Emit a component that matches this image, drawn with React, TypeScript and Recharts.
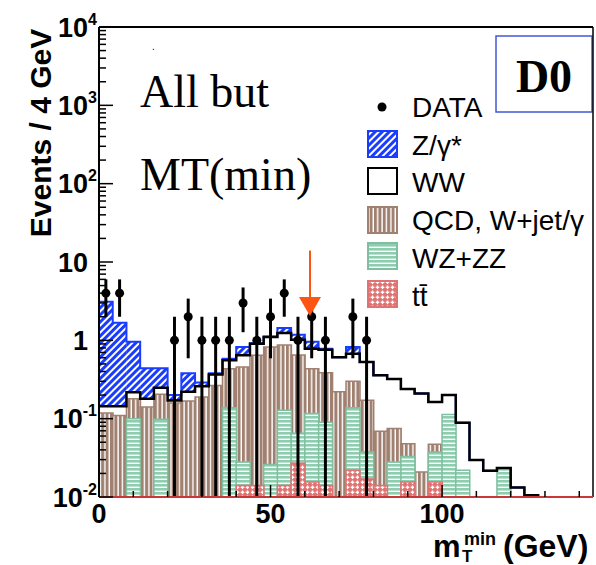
import React from 'react';
import {
  ComposedChart,
  Bar,
  Line,
  Scatter,
  XAxis,
  YAxis,
  ErrorBar,
  ReferenceLine,
  ReferenceDot,
} from 'recharts';

// ---------- data ----------
const BIN_WIDTH = 4; // GeV
const X_MIN = 0;
const X_MAX = 144;
const Y_MIN = 0.01;
const Y_MAX = 10000;

// bin centres (GeV) of the 4 GeV histogram bins
const binCenters = [
  2, 6, 10, 14, 18, 22, 26, 30, 34, 38, 42, 46, 50, 54, 58, 62, 66, 70,
  74, 78, 82, 86, 90, 94, 98, 102, 106, 110, 114, 118, 122, 126, 130, 134, 138, 142,
];

// stacked-histogram top of Z/gamma* (total)
const zGammaTop = [
  3.11, 1.68, 0.96, 0.44, 0.44, 0.2, 0.38, 0.29, 0.38, 0.58, 0.82, 0.92, 1.12, 1.44,
  1.18, 0.96, 0.78, 0.61, 0.82, 0.53, 0.357, 0.32, 0.24, 0.21, 0.163, 0.2, 0.089,
  0.0296, 0.0217, 0.0234, 0.0132, 0.0105,
];
// WW (white, black outline)
const wwTop = [
  0.144, 0.144, 0.217, 0.18, 0.249, 0.17, 0.22, 0.26, 0.365, 0.555, 0.643, 0.906, 1.1,
  1.24, 1.02, 0.78, 0.76, 0.61, 0.675, 0.53, 0.357, 0.32, 0.24, 0.21, 0.163, 0.2, 0.089,
  0.0296, 0.0217, 0.0234, 0.0132, 0.0105,
];
// QCD, W+jet/gamma
const qcdTop = [
  0.118, 0.11, 0.18, 0.141, 0.205, 0.158, 0.168, 0.189, 0.266, 0.435, 0.457, 0.643,
  0.82, 0.87, 0.65, 0.435, 0.385, 0.22, 0.3, 0.172, 0.069, 0.075, 0.048, 0.0209, 0.047,
];
// WZ+ZZ
const wzzzTop = [
  null, null, 0.1, null, 0.098, null, null, null, null, 0.138, 0.028, null, 0.026, 0.128,
  0.065, 0.116, 0.09, null, 0.138, 0.0375, null, 0.028, 0.033, null, 0.0375, 0.113,
  0.022, null, null, 0.0237,
];
// t tbar
const ttbarTop = [
  null, null, null, null, null, null, null, null, null, null, 0.014, 0.014, null, 0.014,
  0.027, 0.0155, 0.014, null, 0.022, 0.017, 0.014, null, 0.0155, null, 0.0155,
];

// DATA points
const dataX = [2, 6, 22, 26, 30, 34, 38, 42, 46, 50, 54, 58, 62, 66, 74, 78];
const dataY = [4, 4, 1, 2, 1, 1, 1, 3, 1, 2, 4, 1, 2, 1, 2, 1];
const dataErr = [2, 2, 1, 1.41, 1, 1, 1, 1.73, 1, 1.41, 2, 1, 1.41, 1, 1.41, 1];

// cut arrow
const cutX = 61.5;
const arrowTopY = 14;
const arrowHeadY = 3.57;

// axis ticks
const yDecades = [0.01, 0.1, 1, 10, 100, 1000, 10000];
const yMinorMultipliers = [2, 3, 4, 5, 6, 7, 8, 9];
const xTicks = [0, 10, 20, 30, 40, 50, 60, 70, 80, 90, 100, 110, 120, 130, 140];
const xLabelled = [0, 50, 100];

// legend
const legendLabels = ['DATA', 'Z/\u03b3*', 'WW', 'QCD, W+jet/\u03b3', 'WZ+ZZ', 'tt\u0304'];

// ---------- derived tables ----------
const pick = (arr: (number | null)[], i: number) =>
  i < arr.length && arr[i] != null ? arr[i] : null;

const histTable = binCenters.map((c, i) => ({
  c,
  z: pick(zGammaTop, i),
  ww: pick(wwTop, i),
  qcd: pick(qcdTop, i),
  wz: pick(wzzzTop, i),
  tt: pick(ttbarTop, i),
}));

const stepOutline = (vals: number[]) => {
  const pts = vals.map((v, i) => ({ x: binCenters[i] - BIN_WIDTH / 2, y: v }));
  pts.push({ x: binCenters[vals.length - 1] + BIN_WIDTH / 2, y: Y_MIN });
  return pts;
};
const zOutline = stepOutline(zGammaTop);
const wwOutline = stepOutline(wwTop);

const dataPoints = dataX.map((x, i) => ({
  x,
  y: dataY[i],
  err: [Math.min(dataErr[i], dataY[i] - Y_MIN), dataErr[i]],
}));

const yTicks: number[] = [];
yDecades.forEach((d, k) => {
  yTicks.push(d);
  if (k < yDecades.length - 1) yMinorMultipliers.forEach((m) => yTicks.push(+(d * m).toPrecision(3)));
});

// ---------- styling ----------
const SANS = "'Liberation Sans', Arial, Helvetica, sans-serif";
const SERIF = "'Liberation Serif', 'Times New Roman', Times, serif";
const C_Z = '#1a3cff';
const C_QCD = '#a08070';
const C_WZ = '#8fcdb0';
const C_WZ_EDGE = '#7fbf9f';
const C_TT = '#e07272';
const C_ARROW = '#ff5514';

const renderYTick = (props: any) => {
  const { x, y, payload } = props;
  const v = payload.value as number;
  const lg = Math.log10(v);
  const exp = Math.round(lg);
  const major = Math.abs(lg - exp) < 1e-6;
  const axisX = x;
  const len = major ? 14 : 7;
  let label: React.ReactNode = null;
  if (major) {
    if (exp === 0 || exp === 1) {
      label = (
        <text x={axisX - 11} y={y + 9.5} textAnchor="end" fontFamily={SANS} fontWeight="bold" fontSize={27} fill="#000">
          {exp === 0 ? '1' : '10'}
        </text>
      );
    } else {
      label = (
        <text x={axisX - 2} y={y + 9.5} textAnchor="end" fontFamily={SANS} fontWeight="bold" fontSize={27} fill="#000">
          <tspan>10</tspan>
          <tspan dy={-12} fontSize={16}>{String(exp)}</tspan>
        </text>
      );
    }
  }
  return (
    <g>
      <line x1={axisX} x2={axisX + len} y1={y} y2={y} stroke="#000" strokeWidth={1.5} />
      {label}
    </g>
  );
};

const renderXTick = (props: any) => {
  const { x, y, payload } = props;
  const v = payload.value as number;
  const major = v % 50 === 0;
  const len = major ? 12 : 6;
  return (
    <g>
      <line x1={x} x2={x} y1={y} y2={y - len} stroke="#000" strokeWidth={1.5} />
      {xLabelled.includes(v) && (
        <text x={x} y={y + 26} textAnchor="middle" fontFamily={SANS} fontWeight="bold" fontSize={27} fill="#000">
          {String(v)}
        </text>
      )}
    </g>
  );
};

const renderDot = (p: any) => <circle cx={p.cx} cy={p.cy} r={4.5} fill="#000" />;

const renderArrowHead = (p: any) => (
  <polygon
    points={`${p.cx - 11},${p.cy} ${p.cx + 11},${p.cy} ${p.cx},${p.cy + 19}`}
    fill={C_ARROW}
  />
);

const legendTop = [131, 168, 207, 243, 281];
const legendFills = ['url(#zHatch)', '#ffffff', 'url(#qcdHatch)', 'url(#wzHatch)', 'url(#ttHatch)'];
const legendStrokes = [C_Z, '#000', C_QCD, C_WZ_EDGE, C_TT];
const legendBaselines = [117, 155, 192, 230, 268, 306];

export default function App() {
  return (
    <div style={{ position: 'absolute', left: 0, top: 0, background: '#fff' }}>
      <ComposedChart
        width={596}
        height={565}
        data={histTable}
        margin={{ top: 27, right: 3, bottom: 0, left: 0 }}
        barCategoryGap={0}
        barGap={0}
      >
        <defs>
          <pattern id="zHatch" width="5" height="5" patternUnits="userSpaceOnUse" patternTransform="rotate(45)">
            <rect width="5" height="5" fill={C_Z} />
            <rect x="0" y="0" width="2" height="5" fill="#ffffff" />
          </pattern>
          <pattern id="qcdHatch" width="4.4" height="10" patternUnits="userSpaceOnUse">
            <rect width="4.4" height="10" fill={C_QCD} />
            <rect x="3" y="0" width="1.4" height="10" fill="#ffffff" />
          </pattern>
          <pattern id="wzHatch" width="10" height="4" patternUnits="userSpaceOnUse">
            <rect width="10" height="4" fill={C_WZ} />
            <rect x="0" y="2.6" width="10" height="1.4" fill="#ffffff" />
          </pattern>
          <pattern id="ttHatch" width="5" height="5" patternUnits="userSpaceOnUse">
            <rect width="5" height="5" fill={C_TT} />
            <rect x="1.8" y="0.5" width="1.4" height="3.6" fill="#ffffff" />
            <rect x="0.7" y="1.6" width="3.6" height="1.4" fill="#ffffff" />
          </pattern>
        </defs>

        <XAxis
          type="number"
          dataKey="x"
          domain={[X_MIN, X_MAX]}
          allowDataOverflow
          ticks={xTicks}
          interval={0}
          tickSize={0}
          tickMargin={0}
          tickLine={false}
          tick={renderXTick}
          axisLine={{ stroke: '#c83838', strokeWidth: 2 }}
          height={68}
        />
        <XAxis xAxisId="h1" type="category" dataKey="c" hide height={0} />
        <XAxis xAxisId="h2" type="category" dataKey="c" hide height={0} />
        <XAxis xAxisId="h3" type="category" dataKey="c" hide height={0} />
        <XAxis xAxisId="h4" type="category" dataKey="c" hide height={0} />
        <XAxis xAxisId="h5" type="category" dataKey="c" hide height={0} />
        <YAxis
          type="number"
          scale="log"
          domain={[Y_MIN, Y_MAX]}
          allowDataOverflow
          ticks={yTicks}
          interval={0}
          tickSize={0}
          tickMargin={0}
          tickLine={false}
          tick={renderYTick}
          axisLine={{ stroke: '#000', strokeWidth: 2 }}
          width={99}
        />

        <Bar xAxisId="h1" dataKey="z" fill="url(#zHatch)" isAnimationActive={false} />
        <Bar xAxisId="h2" dataKey="ww" fill="#ffffff" stroke="#ffffff" strokeWidth={1.2} isAnimationActive={false} />
        <Bar xAxisId="h3" dataKey="qcd" fill="url(#qcdHatch)" stroke={C_QCD} strokeWidth={1.5} isAnimationActive={false} />
        <Bar xAxisId="h4" dataKey="wz" fill="url(#wzHatch)" stroke={C_WZ_EDGE} strokeWidth={1.5} isAnimationActive={false} />
        <Bar xAxisId="h5" dataKey="tt" fill="url(#ttHatch)" stroke={C_TT} strokeWidth={1.5} isAnimationActive={false} />

        <Line data={zOutline} dataKey="y" type="stepAfter" stroke={C_Z} strokeWidth={2} dot={false} activeDot={false} isAnimationActive={false} />
        <Line data={wwOutline} dataKey="y" type="stepAfter" stroke="#000" strokeWidth={2.5} dot={false} activeDot={false} isAnimationActive={false} />

        <Scatter data={dataPoints} dataKey="y" fill="#000" shape={renderDot} isAnimationActive={false}>
          <ErrorBar dataKey="err" direction="y" width={0} stroke="#000" strokeWidth={3} />
        </Scatter>

        <ReferenceLine y={Y_MAX} stroke="#000" strokeWidth={2} />
        <ReferenceLine x={X_MAX} stroke="#000" strokeWidth={1.5} />
        <ReferenceLine
          segment={[{ x: cutX, y: arrowTopY }, { x: cutX, y: arrowHeadY }]}
          stroke={C_ARROW}
          strokeWidth={2}
        />
        <ReferenceDot x={cutX} y={arrowHeadY} r={1} shape={renderArrowHead} />

        {/* axis titles */}
        <text transform="translate(51, 133) rotate(-90)" textAnchor="middle" fontFamily={SANS} fontWeight="bold" fontSize={30} fill="#000">
          Events / 4 GeV
        </text>
        <text x={433} y={557} fontFamily={SANS} fontWeight="bold" fontSize={31} fill="#000">m</text>
        <text x={464} y={545} fontFamily={SANS} fontWeight="bold" fontSize={18} fill="#000">min</text>
        <text x={462} y={562} fontFamily={SANS} fontWeight="bold" fontSize={17} fill="#000">T</text>
        <text x={503} y={557} fontFamily={SANS} fontWeight="bold" fontSize={32} fill="#000">(GeV)</text>

        {/* annotations */}
        <text x={152} y={50} fontFamily={SANS} fontSize={10} fill="#000">.</text>
        <text x={140} y={107} fontFamily={SERIF} fontSize={46} fill="#000">All but</text>
        <text x={140} y={190} fontFamily={SERIF} fontSize={46} fill="#000">MT(min)</text>
        <rect x={496} y={36} width={96} height={76} fill="#ffffff" stroke="#4257d8" strokeWidth={1.5} />
        <text x={544} y={92} textAnchor="middle" fontFamily={SERIF} fontWeight="bold" fontSize={46} fill="#000">D0</text>

        {/* legend */}
        <circle cx={382} cy={107} r={4.5} fill="#000" />
        {legendTop.map((t, i) => (
          <rect key={'lb' + i} x={368} y={t} width={29} height={26} fill={legendFills[i]} stroke={legendStrokes[i]} strokeWidth={2} />
        ))}
        {legendLabels.map((s, i) => (
          <text key={'lt' + i} x={412} y={legendBaselines[i]} fontFamily={SANS} fontSize={28} fill="#000">
            {s}
          </text>
        ))}
      </ComposedChart>
    </div>
  );
}
